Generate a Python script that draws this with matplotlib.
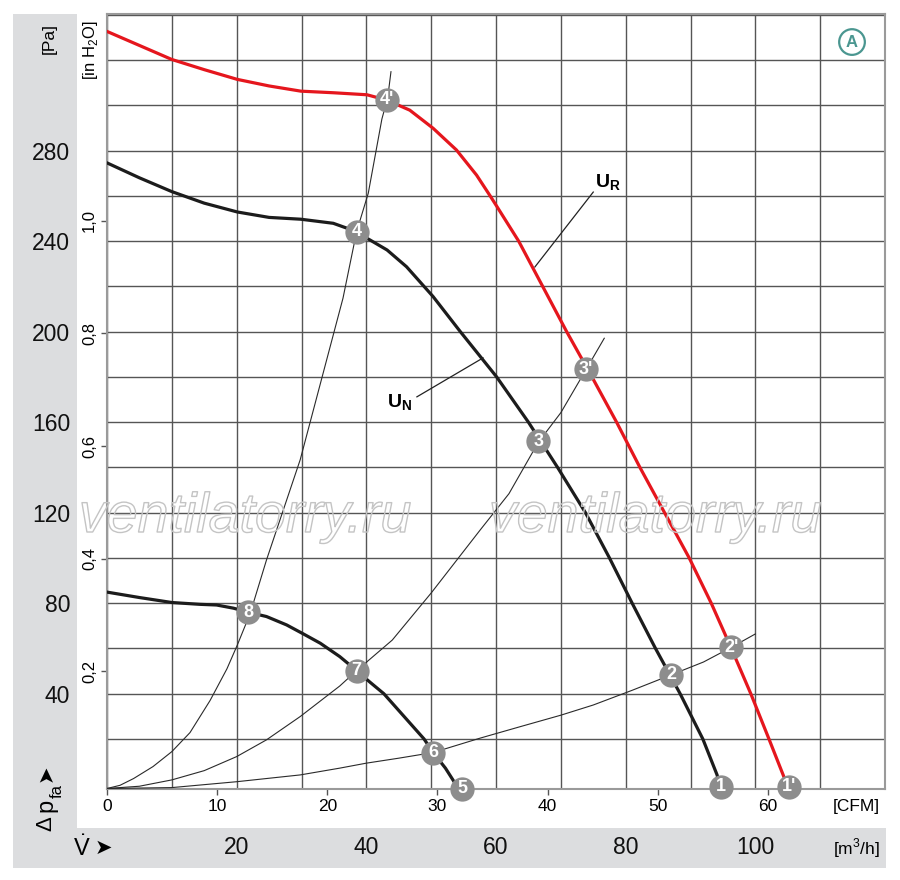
import matplotlib
matplotlib.use('Agg')
import matplotlib.pyplot as plt
import matplotlib.patheffects as pe
from matplotlib import font_manager
from matplotlib.patches import Rectangle
import numpy as np

# ── Fonts: narrow sans like the datasheet, DejaVu as fallback ─────────
_names = {f.name for f in font_manager.fontManager.ttflist}
NARROW = 'Liberation Sans Narrow' if 'Liberation Sans Narrow' in _names else 'Liberation Sans'
plt.rcParams['font.family'] = [NARROW, 'DejaVu Sans']
plt.rcParams['mathtext.fontset'] = 'custom'
plt.rcParams['mathtext.rm'] = NARROW
plt.rcParams['mathtext.bf'] = NARROW + ':bold'

# ── Data (flow in m³/h, static pressure in Pa) ──────────────────────
ur_flow = [0, 5, 10, 15, 20.1, 25, 29.9, 34.9, 40.1, 43.2, 46.7, 50.3, 53.9, 57.0, 59.1,
           60.1, 63.5, 67.2, 70.9, 74.8, 78.6, 82.2, 86.0, 89.8, 93.2, 96.3, 99.3,
           102.1, 104.4, 105.1]
ur_pa = [332.7, 326.5, 320.3, 315.8, 311.5, 308.6, 306.3, 305.6, 304.7, 302.3, 297.9, 289.9,
         280.3, 269.2, 260, 255.5, 240, 220, 200, 180, 160, 140, 120, 100, 80, 60, 40,
         20, 3.3, -1.9]

un_flow = [0, 5, 10, 15, 20.1, 25, 29.9, 34.9, 38.5, 40.1, 43.2, 46.2, 50.3, 54.5, 60.1,
           65.0, 69.5, 73.8, 77.5, 81.0, 84.6, 88.4, 91.9, 94.1, 94.6]
un_pa = [274.6, 268.0, 261.9, 256.8, 252.9, 250.5, 249.7, 247.9, 244.2, 241.3, 236.1, 228.7,
         215.5, 200, 180, 160, 140, 120, 100, 80, 60, 40, 20, 4.1, -1.9]

low_flow = [0, 5, 10, 14.3, 16.9, 19.5, 21.8, 24.6, 27.7, 30.3, 32.9, 35.9, 38.5, 40.6,
            42.7, 45.8, 48.9, 50.3, 52.2, 54.2]
low_pa = [84.9, 82.5, 80.3, 79.5, 79.2, 77.8, 76.0, 74.1, 70.4, 66.4, 62.3, 56.4, 50.2, 45,
          40, 30, 20, 14.0, 7.1, -1.9]

# system resistance curves
sys1_flow = [0, 2, 4.1, 7.1, 10.0, 12.8, 15.9, 18.5, 20.1, 22.1, 24.6, 29.8, 36.4, 38.5,
             40.3, 42.4, 43.3, 43.8]
sys1_pa = [-1.9, -0.5, 2.5, 7.8, 14.4, 22.8, 37, 51, 61.5, 75.6, 99.1, 143.4, 214.8, 244.2,
           261.2, 294, 303.5, 314.9]

sys2_flow = [0, 5, 10, 15, 20.0, 24.6, 29.8, 35.9, 38.5, 44, 50, 57.6, 62, 66.5, 70, 73.9, 76.7]
sys2_pa = [-1.9, -0.9, 1.9, 6.0, 12.2, 19.6, 29.9, 43.4, 50.2, 63.7, 84.5, 112.5, 128.4,
           151.0, 164.2, 183.3, 197.1]

sys3_flow = [0, 10, 20, 29.8, 35.9, 40, 45, 50.3, 57.6, 63.7, 70, 75, 81, 87.0, 92, 96.3, 100]
sys3_pa = [-1.9, -1.5, 1.1, 4.1, 7.1, 9.3, 11.5, 14.0, 20.4, 25.4, 30.5, 35.0, 41.5, 48.3,
           54.0, 60.5, 66.4]

# operating points
pt_labels = ["1'", "2'", "3'", "4'", "1", "2", "3", "4", "5", "6", "7", "8"]
pt_flow = [105.2, 96.3, 73.9, 43.2, 94.7, 87.0, 66.5, 38.5, 54.8, 50.3, 38.5, 21.8]
pt_pa = [-1.2, 60.5, 183.3, 302.6, -1.2, 48.3, 151.6, 244.2, -1.9, 14.0, 50.2, 75.9]

pa_ticks = [40, 80, 120, 160, 200, 240, 280]
m3h_ticks = [20, 40, 60, 80, 100]
cfm_ticks = [0, 10, 20, 30, 40, 50, 60]
inh2o_ticks = [0.2, 0.4, 0.6, 0.8, 1.0]
inh2o_labels = ['0,2', '0,4', '0,6', '0,8', '1,0']

PA_PER_INH2O = 249.089
M3H_PER_CFM = 1.69901

RED = '#e5161d'
BLACK = '#1c1c1c'
GRID = '#555555'
BAND = '#dcdddf'
TEAL = '#4a9690'

W, H = 900, 880


def fx(px):
    return px / W


def fy(py):
    return 1 - py / H


fig = plt.figure(figsize=(9, 8.8), dpi=100)

# gray label bands (behind the axes and their tick labels)
fig.patches.append(Rectangle((fx(13), fy(868)), (77 - 13) / W, (868 - 14) / H,
                             transform=fig.transFigure, fc=BAND, ec='none', zorder=-5))
fig.patches.append(Rectangle((fx(13), fy(868)), (886 - 13) / W, 40 / H,
                             transform=fig.transFigure, fc=BAND, ec='none', zorder=-5))

ax = fig.add_axes([fx(107), fy(788.5), 778 / W, (788.5 - 14) / H])
ax.set_xlim(0, 120)
ax.set_ylim(-1.9, 340.4)

# grid
ax.set_xticks(m3h_ticks)
ax.set_xticks(np.arange(0, 121, 10), minor=True)
ax.set_yticks(pa_ticks)
ax.set_yticks(np.arange(20, 341, 20), minor=True)
ax.grid(True, which='both', color=GRID, lw=1.0)
ax.set_axisbelow(True)
for s in ax.spines.values():
    s.set_color('#9a9a9a')
    s.set_linewidth(1.5)

ax.tick_params(axis='both', which='both', length=0)
ax.tick_params(axis='y', which='major', pad=26.5, labelsize=16.5, labelcolor='#111')
ax.tick_params(axis='x', which='major', pad=34, labelsize=16.5, labelcolor='#111')

# CFM scale
secx = ax.secondary_xaxis('bottom', functions=(lambda v: v / M3H_PER_CFM,
                                                lambda v: v * M3H_PER_CFM))
secx.set_xticks(cfm_ticks)
secx.tick_params(length=4.5, width=1, color=GRID, pad=3, labelsize=12.5)
secx.spines['bottom'].set_visible(False)

# in H2O scale
secy = ax.secondary_yaxis('left', functions=(lambda v: v / PA_PER_INH2O,
                                              lambda v: v * PA_PER_INH2O))
secy.set_yticks(inh2o_ticks, inh2o_labels)
secy.tick_params(length=4.2, width=1, color=GRID, pad=3, labelsize=12)
secy.spines['left'].set_visible(False)
for lab in secy.get_yticklabels():
    lab.set_rotation(90)
    lab.set_va('center')

# system curves
for fl, pa in [(sys1_flow, sys1_pa), (sys2_flow, sys2_pa), (sys3_flow, sys3_pa)]:
    ax.plot(fl, pa, color='#2a2a2a', lw=0.8, zorder=3)

# fan curves
ax.plot(low_flow, low_pa, color=BLACK, lw=2.3, zorder=4, solid_joinstyle='round')
ax.plot(un_flow, un_pa, color=BLACK, lw=2.3, zorder=4, solid_joinstyle='round')
ax.plot(ur_flow, ur_pa, color=RED, lw=2.3, zorder=4, solid_joinstyle='round')

# operating point markers
ax.plot(pt_flow, pt_pa, 'o', ms=17.5, color='#8d8d8d', mec='none', zorder=5, clip_on=False)
for lab, xv, yv in zip(pt_labels, pt_flow, pt_pa):
    ax.text(xv, yv, lab, ha='center', va='center', color='white', fontsize=13,
            fontweight='bold', zorder=6, clip_on=False)

# curve labels with leaders
ax.plot([66.0, 75.0], [228.6, 261.7], color='#222', lw=0.9, zorder=4)
ax.text(77.2, 265.7, r'$\mathbf{U}_\mathbf{R}$', ha='center', va='center', fontsize=14, zorder=6)
ax.plot([47.8, 58.0], [171.2, 188.4], color='#222', lw=0.9, zorder=4)
ax.text(45.2, 168.6, r'$\mathbf{U}_\mathbf{N}$', ha='center', va='center', fontsize=14, zorder=6)

# "A" badge
ax.text(0.9576, 0.9638, 'A', transform=ax.transAxes, ha='center', va='center', color=TEAL,
        fontsize=12, fontweight='bold',
        bbox=dict(boxstyle='circle,pad=0.32', fc='white', ec=TEAL, lw=1.6), zorder=6)

# watermark
for cx in (245, 655):
    fig.text(fx(cx), fy(532), 'ventilatorry.ru', ha='center', va='baseline',
             fontsize=40, style='italic', color=(1, 1, 1, 0), zorder=3,
             path_effects=[pe.Stroke(linewidth=1.0, foreground='#c4c4c4')])

# axis captions
fig.text(fx(49), fy(38), '[Pa]', rotation=90, ha='center', va='center', fontsize=12.5)
fig.text(fx(90), fy(50), r'[in H$_2$O]', rotation=90, ha='center', va='center', fontsize=12)
fig.text(fx(856), fy(806), '[CFM]', ha='center', va='center', fontsize=12.5)
fig.text(fx(856), fy(848), r'[m$^3$/h]', ha='center', va='center', fontsize=12.5)

fig.text(fx(82), fy(848), r'$\dot{\mathrm{V}}$', ha='center', va='center', fontsize=17)
fig.text(fx(103), fy(848), '➤', ha='center', va='center', fontsize=15)

fig.text(fx(46), fy(824), 'Δ', rotation=90, ha='center', va='center', fontsize=16)
fig.text(fx(46), fy(805), 'p', rotation=90, ha='center', va='center', fontsize=17)
fig.text(fx(57), fy(791), 'fa', rotation=90, ha='center', va='center', fontsize=12)
fig.text(fx(46), fy(773), '➤', rotation=90, ha='center', va='center', fontsize=15)

fig.savefig('out.png', dpi=100)
